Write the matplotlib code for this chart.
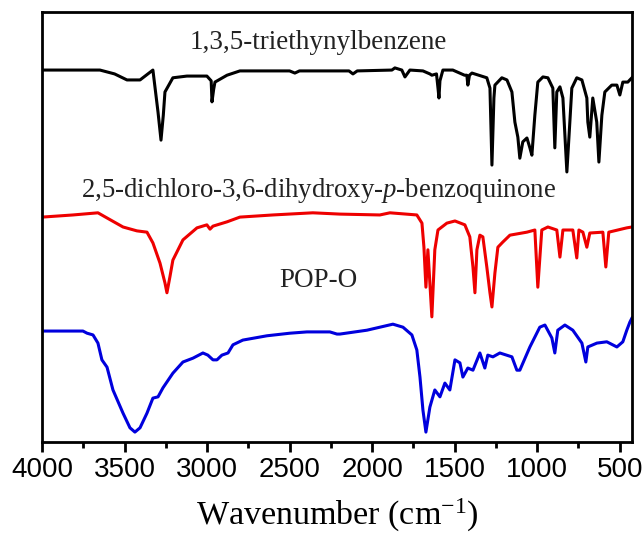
import numpy as np
import matplotlib.pyplot as plt

plt.rcParams['font.family'] = 'Liberation Serif'
plt.rcParams['mathtext.fontset'] = 'custom'
plt.rcParams['mathtext.rm'] = 'Liberation Serif'
plt.rcParams['mathtext.it'] = 'Liberation Serif:italic'

# FTIR spectra, wavenumber (cm-1) vs. transmittance (a.u., offset)
# 1,3,5-triethynylbenzene
wn_teb = [4000, 3649, 3560, 3485, 3406, 3328, 3297, 3279, 3265, 3255, 3207, 3122,
          3001, 2975, 2970, 2960, 2952, 2879, 2801, 2500, 2468, 2440, 2140, 2116,
          2090, 1880, 1862, 1820, 1801, 1771, 1692, 1650, 1638, 1610, 1600, 1595,
          1589, 1571, 1511, 1440, 1426, 1420, 1410, 1395, 1305, 1286, 1274, 1262,
          1256, 1214, 1183, 1153, 1135, 1117, 1105, 1087, 1062, 1044, 1032, 1014,
          996, 965, 935, 905, 893, 881, 862, 844, 820, 802, 790, 760, 729, 699,
          693, 681, 663, 639, 626, 608, 590, 548, 517, 499, 481, 451, 426]
t_teb = [86.5, 86.5, 85.6, 84.2, 84.2, 86.5, 76.7, 70.2, 76.0, 81.4, 84.7, 85.1,
         85.1, 84.0, 79.1, 82.0, 83.7, 85.3, 86.3, 86.3, 85.8, 86.3, 86.3, 85.6,
         86.3, 86.5, 87.0, 86.5, 84.9, 86.5, 86.3, 85.6, 85.3, 85.6, 82.0, 80.0,
         84.0, 86.5, 86.5, 85.3, 85.3, 83.0, 85.3, 85.8, 84.7, 82.3, 64.4, 80.0,
         83.0, 84.7, 84.2, 81.4, 74.4, 70.9, 66.0, 69.8, 70.7, 68.4, 66.7, 76.0,
         83.7, 84.9, 84.7, 82.3, 68.4, 81.4, 82.6, 80.0, 62.8, 74.4, 82.3, 84.7, 84.2, 80.0,
         74.4, 70.9, 80.0, 74.4, 65.1, 76.0, 81.4, 83.0, 83.0, 80.7, 83.7, 83.7, 84.7]

# 2,5-dichloro-3,6-dihydroxy-p-benzoquinone
wn_dhbq = [4000, 3812, 3661, 3606, 3509, 3425, 3364, 3328, 3285, 3255, 3243, 3225,
           3207, 3146, 3061, 3001, 2982, 2964, 2879, 2801, 2601, 2359, 2195, 1953,
           1892, 1729, 1698, 1686, 1674, 1662, 1650, 1638, 1620, 1601, 1547, 1498,
           1438, 1408, 1389, 1377, 1365, 1347, 1329, 1305, 1286, 1274, 1256, 1238,
           1208, 1165, 1062, 1014, 996, 972, 935, 881, 862, 844, 784, 760, 747,
           723, 699, 681, 602, 584, 566, 457, 426]
t_dhbq = [52.3, 52.8, 53.3, 52.1, 50.0, 49.1, 48.8, 46.3, 41.6, 37.0, 34.7, 38.4,
          42.3, 47.0, 49.8, 50.5, 49.5, 50.2, 51.2, 52.3, 52.8, 53.3, 53.0, 52.8,
          53.3, 52.8, 50.9, 45.3, 36.0, 44.7, 37.0, 29.1, 44.7, 49.3, 50.9, 51.4,
          50.5, 47.7, 40.7, 34.7, 44.7, 48.1, 47.7, 40.7, 34.7, 31.4, 39.3, 45.3,
          46.5, 48.1, 48.8, 49.3, 36.0, 49.3, 50.0, 49.3, 43.0, 49.3, 49.3, 42.8, 49.3,
          48.8, 45.3, 48.6, 48.8, 40.7, 48.8, 49.8, 50.0]

# POP-O
wn_pop = [4000, 3752, 3727, 3691, 3661, 3637, 3606, 3570, 3509, 3467, 3437, 3406,
          3364, 3328, 3297, 3267, 3207, 3146, 3085, 3025, 2995, 2964, 2940, 2910,
          2873, 2843, 2783, 2637, 2498, 2395, 2256, 2213, 2195, 2031, 1874, 1813,
          1759, 1729, 1710, 1692, 1674, 1650, 1620, 1589, 1559, 1529, 1498, 1468,
          1450, 1420, 1389, 1347, 1317, 1299, 1268, 1226, 1153, 1123, 1105, 1044,
          984, 953, 911, 893, 875, 832, 784, 729, 705, 693, 638, 578, 517, 481,
          457, 438, 426]
t_pop = [25.8, 25.8, 25.3, 24.9, 23.0, 19.1, 17.4, 12.1, 6.7, 3.3, 2.3, 3.3,
         6.7, 10.2, 10.5, 12.6, 16.0, 18.6, 19.5, 20.7, 20.2, 19.1, 19.1, 20.2,
         20.7, 22.6, 23.7, 24.7, 25.3, 25.6, 25.6, 25.1, 25.1, 26.0, 27.4, 26.7,
         24.9, 21.4, 15.1, 7.4, 2.3, 8.1, 12.1, 10.5, 13.7, 12.1, 19.1, 18.4,
         15.1, 17.2, 16.7, 20.7, 17.2, 20.2, 19.8, 20.7, 19.8, 16.7, 16.7, 22.1,
         26.7, 27.2, 24.2, 20.7, 26.0, 27.2, 26.0, 23.0, 18.6, 22.1, 23.0, 23.3,
         22.1, 23.3, 26.0, 27.9, 28.8]

labels = ['1,3,5-triethynylbenzene',
          '2,5-dichloro-3,6-dihydroxy-$\\mathit{p}$-benzoquinone',
          'POP-O']

fig = plt.figure(figsize=(6.43, 5.36), dpi=100)
ax = fig.add_axes([0.0653, 0.1754, 0.9177, 0.8022])

ax.plot(wn_teb, t_teb, color='black', lw=2.2)
ax.plot(wn_dhbq, t_dhbq, color='#ee0000', lw=2.2)
ax.plot(wn_pop, t_pop, color='#0000dd', lw=2.2)

ax.text(2328, 91.4, labels[0], ha='center', va='baseline', fontsize=19.5, color='#222222')
ax.text(2322, 57.0, labels[1], ha='center', va='baseline', fontsize=19.3, color='#222222')
ax.text(2328, 36.0, labels[2], ha='center', va='baseline', fontsize=19.5, color='#222222')

ax.set_xlim(4000, 425)
ax.set_ylim(0, 100)
ax.set_xticks([4000, 3500, 3000, 2500, 2000, 1500, 1000, 500])
ax.set_xticks(np.arange(3750, 400, -500), minor=True)
ax.set_yticks([])
for lab in ax.get_xticklabels():
    lab.set_family('Liberation Sans')
ax.tick_params(axis='x', which='major', direction='out', length=7, width=2, labelsize=20)
ax.tick_params(axis='x', which='minor', direction='out', length=4, width=2)
for s in ax.spines.values():
    s.set_linewidth(2)

ax.set_xlabel('Wavenumber (cm$^{-1}$)', fontsize=24.5, labelpad=10)

fig.savefig('out.png', dpi=100)
